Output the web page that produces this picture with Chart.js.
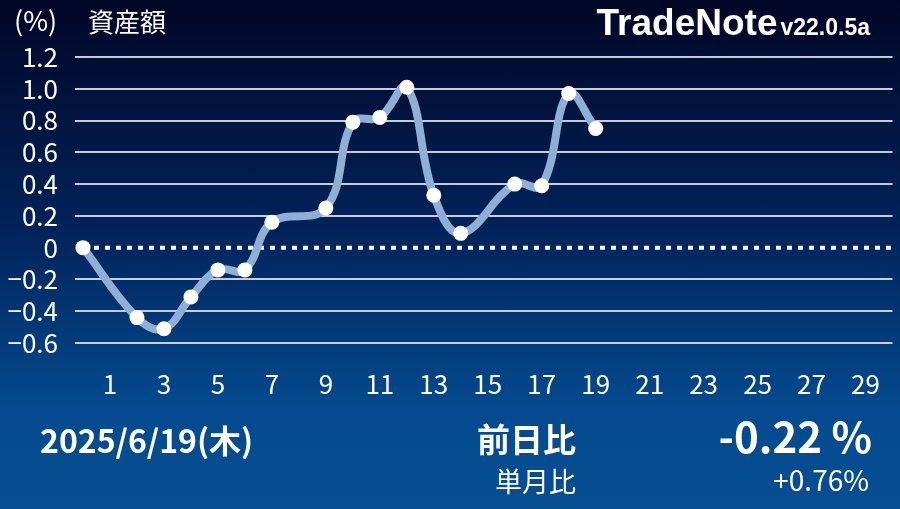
<!DOCTYPE html>
<html lang="ja">
<head>
<meta charset="utf-8">
<script src="https://cdn.jsdelivr.net/npm/chart.js@4.4.1/dist/chart.umd.min.js"></script>
<style>
    html, body { margin: 0; padding: 0; }
    body {
        width: 900px; height: 509px; overflow: hidden; position: relative;
        background: linear-gradient(to bottom, #010626 0%, #02235a 45%, #054a8e 80%, #074e92 100%);
        font-family: "Noto Sans CJK JP", "Noto Sans", sans-serif; color: #fff;
    }
    #chart { position: absolute; left: 0; top: 0; }
    .txt { position: absolute; white-space: nowrap; line-height: 1; }
    .logo { font-family: "Liberation Sans", Arial, sans-serif; font-weight: bold; }
</style>
</head>
<body>
<canvas id="chart" width="900" height="509"></canvas>

<div class="txt" style="left:14px; top:6px; font-size:27px;">(%)</div>
<div class="txt" style="left:88px; top:8px; font-size:26px;">資産額</div>
<div class="txt logo" style="right:30px; top:4px;">
    <span style="font-size:37px;">TradeNote</span><span style="font-size:23px; margin-left:3px;">v22.0.5a</span>
</div>

<div class="txt" style="left:40px; top:423px; font-size:32px; font-weight:bold;">2025/6/19(木)</div>
<div class="txt" style="right:324px; top:422px; font-size:33px; font-weight:bold;">前日比</div>
<div class="txt" style="right:28px; top:414px; font-size:42px; font-weight:bold;">-0.22 %</div>
<div class="txt" style="right:324px; top:467px; font-size:27px;">単月比</div>
<div class="txt" style="right:31px; top:465px; font-size:28px;">+0.76%</div>

<script>
    // day of month -> change in asset value (%)
    const days = [0, 2, 3, 4, 5, 6, 7, 9, 10, 11, 12, 13, 14, 16, 17, 18, 19];
    const values = [0, -0.44, -0.51, -0.31, -0.14, -0.14, 0.16, 0.25, 0.79, 0.82, 1.01,
        0.33, 0.09, 0.40, 0.39, 0.97, 0.75];
    const x_range = [0, 30];
    const y_range = [-0.6, 1.2];

    const font_family = '"Noto Sans CJK JP", "Noto Sans", sans-serif';

    let points = [];
    for (let i = 0; i < days.length; i++) {
        points.push({x: days[i], y: values[i]});
    }
    let zero_line = x_range.map(function (d) {
        return {x: d, y: 0};
    });

    function is_zero(v) {
        return Math.abs(v) < 1e-9;
    }

    const config = {
        type: 'line',
        data: {
            datasets: [{
                data: points,
                borderColor: '#8fafd7',
                borderWidth: 8,
                tension: 0.4,
                pointRadius: 7.5,
                pointBackgroundColor: '#ffffff',
                pointBorderWidth: 0,
                clip: false,
                order: 1
            }, {
                data: zero_line,
                borderColor: '#ffffff',
                borderWidth: 4,
                borderDash: [5, 6],
                pointRadius: 0,
                order: 2
            }]
        },
        options: {
            responsive: false,
            animation: false,
            layout: {
                padding: {left: 0, right: 7, top: 57, bottom: 106}
            },
            plugins: {
                legend: {display: false},
                tooltip: {enabled: false}
            },
            scales: {
                x: {
                    type: 'linear',
                    min: x_range[0], max: x_range[1],
                    grid: {display: false, drawTicks: false},
                    border: {display: false},
                    afterFit: function (scale) {
                        scale.height = 60;
                        scale.paddingLeft = 0;
                        scale.paddingRight = 0;
                    },
                    ticks: {
                        stepSize: 1, autoSkip: false, maxRotation: 0,
                        color: '#ffffff', padding: 26,
                        font: {family: font_family, size: 26},
                        callback: function (v) {
                            return v % 2 === 1 ? String(v) : '';
                        }
                    }
                },
                y: {
                    min: y_range[0], max: y_range[1],
                    afterFit: function (scale) {
                        scale.width = 83;
                    },
                    border: {display: false},
                    grid: {
                        lineWidth: 2,
                        tickLength: 8,
                        color: function (ctx) {
                            return ctx.tick && is_zero(ctx.tick.value) ? 'rgba(0,0,0,0)' : '#c5cdda';
                        }
                    },
                    ticks: {
                        stepSize: 0.2, autoSkip: false, color: '#ffffff', padding: 17,
                        font: {family: font_family, size: 26},
                        callback: function (v) {
                            if (is_zero(v)) return '0';
                            return (v < 0 ? '\u2212' : '') + Math.abs(v).toFixed(1);
                        }
                    }
                }
            }
        }
    };

    const ctx = document.getElementById('chart').getContext('2d');
    new Chart(ctx, config);
</script>
</body>
</html>
